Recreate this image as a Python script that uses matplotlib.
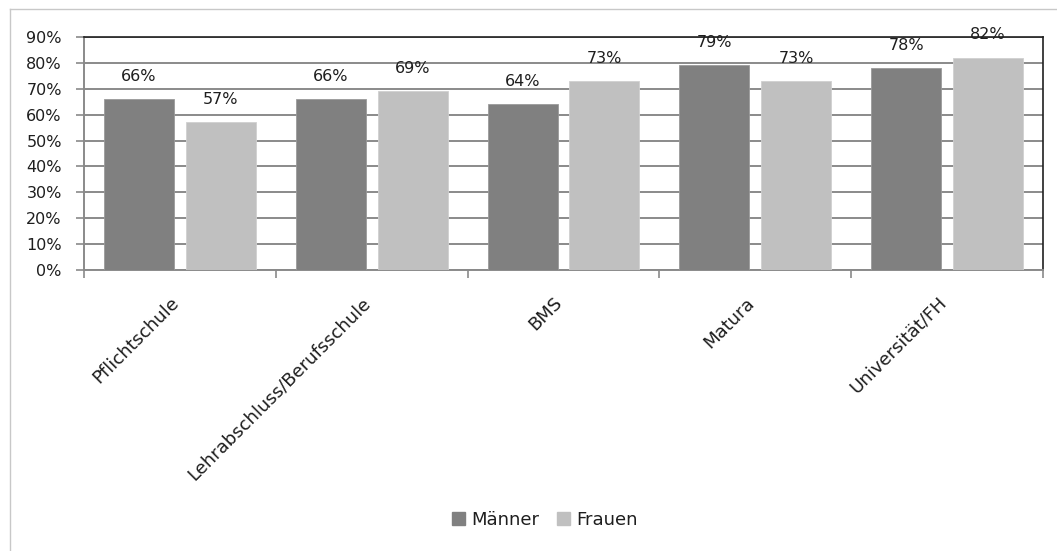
import matplotlib
matplotlib.use("Agg")
import matplotlib.pyplot as plt
from matplotlib.lines import Line2D
import matplotlib.transforms as mtransforms
import numpy as np

categories = ["Pflichtschule", "Lehrabschluss/Berufsschule", "BMS", "Matura", "Universität/FH"]
maenner = [66, 66, 64, 79, 78]
frauen = [57, 69, 73, 73, 82]
series_names = ["Männer", "Frauen"]
yticks = [0, 10, 20, 30, 40, 50, 60, 70, 80, 90]

plt.rcParams["font.family"] = ["DejaVu Sans"]

W, H = 1057, 551
fig = plt.figure(figsize=(W / 100, H / 100), dpi=100)
ax = fig.add_axes([84 / W, 1 - 270 / H, (1043 - 84) / W, (270 - 37) / H])

c_m = "#808080"
c_f = "#c0c0c0"
txt = "#1e1e1e"
x = np.arange(len(categories))
bw = 70 / 192
gap = 12 / 192
b1 = ax.bar(x - gap / 2 - bw / 2, maenner, bw, color=c_m, edgecolor="#9a9a9a", linewidth=0.6, zorder=3, label=series_names[0])
b2 = ax.bar(x + gap / 2 + bw / 2, frauen, bw, color=c_f, edgecolor="#d0d0d0", linewidth=0.6, zorder=3, label=series_names[1])

for bars, vals in ((b1, maenner), (b2, frauen)):
    for r, v in zip(bars, vals):
        ax.annotate(f"{v}%", (r.get_x() + r.get_width() / 2, v), xytext=(0, 16.5),
                    textcoords="offset points", ha="center", va="center",
                    fontsize=11.5, color=txt, zorder=5, annotation_clip=False)

ax.set_xlim(-0.5, len(categories) - 0.5)
ax.set_ylim(0, 90)
ax.set_yticks(yticks)
ax.set_yticklabels([f"{t}%" for t in yticks], fontsize=11.5, color=txt)
ax.yaxis.grid(True, color="#8a8a8a", linewidth=1.4, zorder=1)
ax.set_axisbelow(True)

# category boundary ticks on the x axis
ax.set_xticks(np.arange(-0.5, len(categories), 1.0))
ax.set_xticklabels([])
ax.set_xticks(x, minor=True)
ax.set_xticklabels(categories, minor=True, rotation=45, ha="right", va="top",
                   rotation_mode="anchor", fontsize=13, color=txt)
ax.tick_params(axis="x", which="minor", length=0, pad=17)
ax.tick_params(axis="x", which="major", length=6, color="#8a8a8a", width=1.2)
ax.tick_params(axis="y", length=6, color="#8a8a8a", width=1.2, pad=10)

shift = mtransforms.ScaledTranslation(-0.10, 0, fig.dpi_scale_trans)
for lab in ax.get_xticklabels(minor=True):
    lab.set_transform(lab.get_transform() + shift)

for side in ("left", "bottom"):
    ax.spines[side].set_color("#8a8a8a")
    ax.spines[side].set_linewidth(1.4)
for side in ("top", "right"):
    ax.spines[side].set_color("#202020")
    ax.spines[side].set_linewidth(1.2)

handles = [plt.Rectangle((0, 0), 1, 1, color=c_m), plt.Rectangle((0, 0), 1, 1, color=c_f)]
fig.legend(handles, series_names, loc="center", bbox_to_anchor=(545 / W, 1 - 520 / H),
           ncol=2, frameon=False, fontsize=13, handlelength=0.7, handleheight=0.7,
           handletextpad=0.35, columnspacing=1.0, labelcolor=txt)

# outer chart frame
fig.add_artist(Line2D([10 / W, 1.0], [1 - 9 / H, 1 - 9 / H], color="#c8c8c8", linewidth=1.0, transform=fig.transFigure))
fig.add_artist(Line2D([10 / W, 10 / W], [0, 1 - 9 / H], color="#c8c8c8", linewidth=1.0, transform=fig.transFigure))

fig.savefig("out.png", dpi=100)
